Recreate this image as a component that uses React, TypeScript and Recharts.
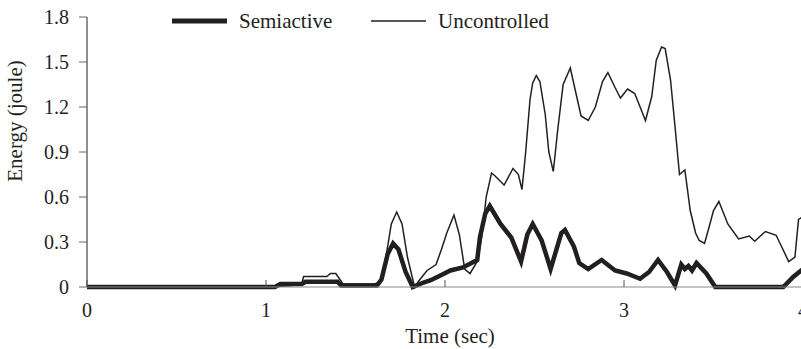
import { Label, Line, LineChart, XAxis, YAxis } from "recharts";

const seriesNames = ["Semiactive", "Uncontrolled"];
const timeTicks = [0, 1, 2, 3, 4];
const energyTicks = [0, 0.3, 0.6, 0.9, 1.2, 1.5, 1.8];

const uncontrolledTime = [
  0, 1.0, 1.15, 1.2, 1.21, 1.34, 1.36, 1.39, 1.43, 1.6, 1.64, 1.67, 1.7, 1.73, 1.76,
  1.79, 1.83, 1.86, 1.9, 1.95, 1.98, 2.01, 2.05, 2.08, 2.11, 2.14, 2.18, 2.205, 2.23,
  2.26, 2.28, 2.33, 2.38, 2.41, 2.43, 2.45, 2.475, 2.49, 2.51, 2.53, 2.56, 2.58, 2.605,
  2.63, 2.66, 2.7, 2.73, 2.76, 2.8, 2.84, 2.88, 2.91, 2.95, 2.98, 3.02, 3.06, 3.09,
  3.12, 3.155, 3.18, 3.21, 3.23, 3.26, 3.285, 3.31, 3.34, 3.37, 3.4, 3.42, 3.45, 3.48,
  3.5, 3.53, 3.58, 3.64, 3.7, 3.73, 3.79, 3.85, 3.88, 3.92, 3.955, 3.975, 4.0,
];
const uncontrolledEnergy = [
  0, 0, 0.01, 0.02, 0.07, 0.07, 0.09, 0.09, 0.02, 0.02, 0.03, 0.2, 0.42, 0.5, 0.42,
  0.2, 0, 0.05, 0.11, 0.15, 0.25, 0.36, 0.48, 0.35, 0.12, 0.09, 0.17, 0.33, 0.6,
  0.76, 0.74, 0.68, 0.79, 0.75, 0.65, 0.89, 1.25, 1.36, 1.41, 1.37, 1.15, 0.9, 0.77,
  1.05, 1.35, 1.46, 1.3, 1.14, 1.11, 1.2, 1.37, 1.43, 1.33, 1.26, 1.32, 1.29, 1.2,
  1.11, 1.27, 1.51, 1.6, 1.59, 1.38, 1.07, 0.75, 0.78, 0.51, 0.36, 0.31, 0.29, 0.42,
  0.51, 0.57, 0.42, 0.32, 0.34, 0.305, 0.37, 0.345, 0.27, 0.17, 0.2, 0.45, 0.47,
];

const semiactiveTime = [
  0, 1.05, 1.08, 1.2, 1.22, 1.4, 1.42, 1.62, 1.645, 1.68, 1.71, 1.74, 1.78, 1.82, 1.88,
  1.92, 1.98, 2.03, 2.1, 2.18, 2.195, 2.225, 2.25, 2.31, 2.37, 2.425, 2.46, 2.49, 2.54,
  2.59, 2.65, 2.67, 2.72, 2.75, 2.8, 2.875, 2.95, 3.015, 3.09, 3.14, 3.19, 3.24, 3.285,
  3.32, 3.34, 3.36, 3.38, 3.405, 3.46, 3.51, 3.89, 3.945, 4.0,
];
const semiactiveEnergy = [
  0, 0, 0.02, 0.02, 0.035, 0.035, 0.01, 0.01, 0.05, 0.22, 0.29, 0.25, 0.1, 0, 0.03,
  0.045, 0.08, 0.11, 0.13, 0.18, 0.33, 0.49, 0.54, 0.42, 0.33, 0.17, 0.35, 0.42, 0.31,
  0.12, 0.36, 0.38, 0.27, 0.16, 0.12, 0.18, 0.11, 0.09, 0.055, 0.1, 0.18, 0.1, 0.01,
  0.15, 0.12, 0.14, 0.11, 0.16, 0.09, 0, 0, 0.067, 0.12,
];

const uncontrolledData = uncontrolledTime.map((t, i) => ({ time: t, energy: uncontrolledEnergy[i] }));
const semiactiveData = semiactiveTime.map((t, i) => ({ time: t, energy: semiactiveEnergy[i] }));

const font = "'Liberation Serif', 'Times New Roman', serif";
const ink = "#231f20";

function TimeTick(props: any) {
  const { x, y, payload } = props;
  return (
    <g>
      <line x1={x} y1={y - 7} x2={x} y2={y} stroke="#555" strokeWidth={1} />
      <text x={x} y={y + 30} textAnchor="middle" fontFamily={font} fontSize={20} fill={ink}>
        {payload.value}
      </text>
    </g>
  );
}

// legend sits over the chart so it doesn't push the plot down
function LegendBox() {
  return (
    <svg width={801} height={40} style={{ position: "absolute", left: 0, top: 0 }}>
      <line x1={172} y1={21} x2={227} y2={21} stroke={ink} strokeWidth={5} />
      <text x={239} y={28} fontFamily={font} fontSize={21} fill={ink}>
        {seriesNames[0]}
      </text>
      <line x1={371} y1={21} x2={426} y2={21} stroke={ink} strokeWidth={1.5} />
      <text x={438} y={28} fontFamily={font} fontSize={21} fill={ink}>
        {seriesNames[1]}
      </text>
    </svg>
  );
}

export default function App() {
  return (
    <div style={{ position: "absolute", left: 0, top: 0, width: 801, height: 349, overflow: "hidden", background: "#fff" }}>
      <LineChart width={810} height={349} margin={{ top: 17, right: 7, left: 0, bottom: 0 }}>
        <XAxis
          type="number"
          dataKey="time"
          domain={[0, 4]}
          ticks={timeTicks}
          allowDataOverflow
          height={62}
          stroke="#888"
          tickLine={false}
          tickSize={0}
          tickMargin={0}
          tick={<TimeTick />}
          interval={0}
        >
          <Label
            content={() => (
              <text x={450} y={343} textAnchor="middle" fontFamily={font} fontSize={21} fill={ink}>
                Time (sec)
              </text>
            )}
          />
        </XAxis>
        <YAxis
          type="number"
          domain={[0, 1.8]}
          ticks={energyTicks}
          width={87}
          stroke={ink}
          tickSize={8}
          tickMargin={10}
          tickLine={{ stroke: "#666" }}
          tick={{ fontFamily: font, fontSize: 20, fill: ink }}
          interval={0}
        >
          <Label
            content={() => (
              <text
                transform="translate(22,121) rotate(-90)"
                textAnchor="middle"
                fontFamily={font}
                fontSize={21}
                fill={ink}
              >
                Energy (joule)
              </text>
            )}
          />
        </YAxis>
        <Line
          data={uncontrolledData}
          dataKey="energy"
          name={seriesNames[1]}
          type="linear"
          stroke={ink}
          strokeWidth={1.5}
          dot={false}
          isAnimationActive={false}
        />
        <Line
          data={semiactiveData}
          dataKey="energy"
          name={seriesNames[0]}
          type="linear"
          stroke={ink}
          strokeWidth={4.5}
          dot={false}
          isAnimationActive={false}
        />
      </LineChart>
      <LegendBox />
    </div>
  );
}
